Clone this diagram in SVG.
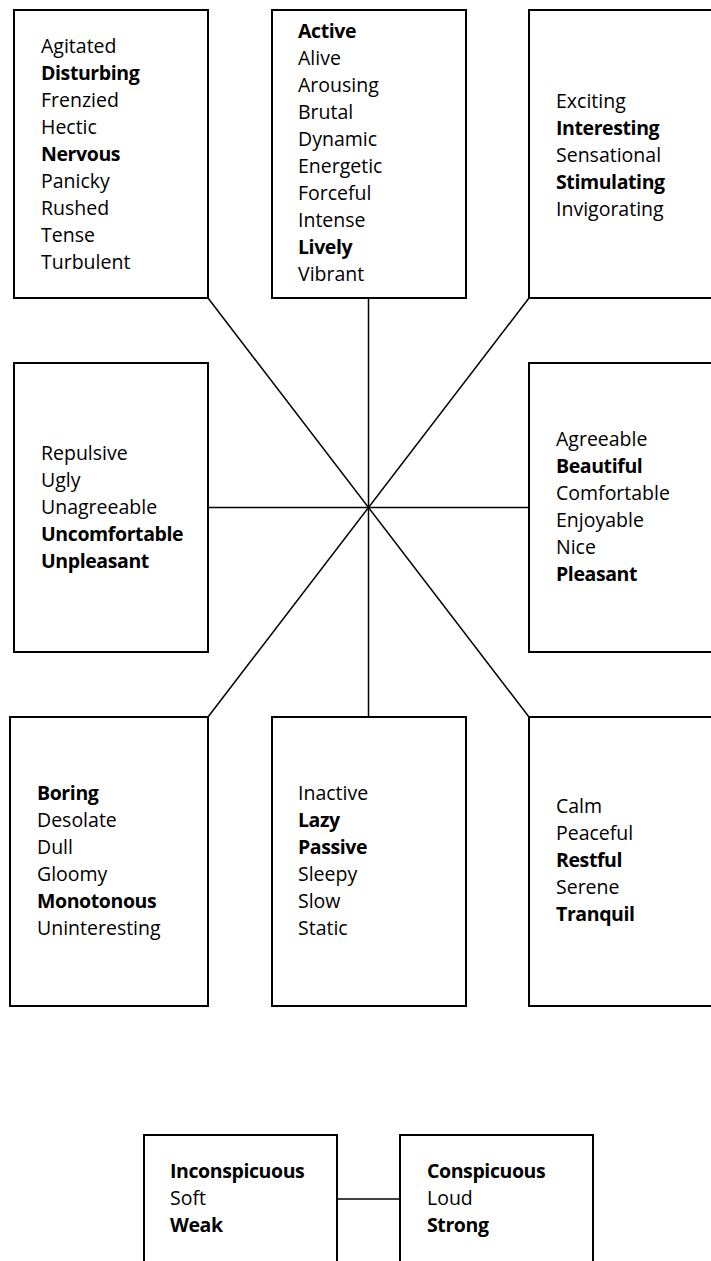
<svg xmlns="http://www.w3.org/2000/svg" width="711" height="1261" viewBox="0 0 711 1261">
<style>
.box{fill:#fff;stroke:#000;stroke-width:2}
.conn line{stroke:#000;stroke-width:1.5}
text{font-family:"Open Sans","Noto Sans","DejaVu Sans",sans-serif;font-size:19.5px;fill:#000}
.b{font-weight:bold;letter-spacing:-0.4px}
</style>
<rect width="711" height="1261" fill="#fff"/>
<g id="connectors" class="conn">
<line x1="208" y1="298" x2="529" y2="717"/>
<line x1="529" y1="298" x2="208" y2="717"/>
<line x1="368.5" y1="298" x2="368.5" y2="717"/>
<line x1="208" y1="507.5" x2="529" y2="507.5"/>
<line x1="337" y1="1199" x2="400" y2="1199"/>
</g>
<g id="box-agitated">
<rect class="box" x="14" y="10" width="194" height="288"/>
<text x="41" y="53">Agitated</text>
<text x="41" y="80" class="b">Disturbing</text>
<text x="41" y="107">Frenzied</text>
<text x="41" y="134">Hectic</text>
<text x="41" y="161" class="b">Nervous</text>
<text x="41" y="188">Panicky</text>
<text x="41" y="215">Rushed</text>
<text x="41" y="242">Tense</text>
<text x="41" y="269">Turbulent</text>
</g>
<g id="box-active">
<rect class="box" x="272" y="10" width="194" height="288"/>
<text x="298" y="38" class="b">Active</text>
<text x="298" y="65">Alive</text>
<text x="298" y="92">Arousing</text>
<text x="298" y="119">Brutal</text>
<text x="298" y="146">Dynamic</text>
<text x="298" y="173">Energetic</text>
<text x="298" y="200">Forceful</text>
<text x="298" y="227">Intense</text>
<text x="298" y="254" class="b">Lively</text>
<text x="298" y="281">Vibrant</text>
</g>
<g id="box-exciting">
<rect class="box" x="529" y="10" width="194" height="288"/>
<text x="556" y="108">Exciting</text>
<text x="556" y="135" class="b">Interesting</text>
<text x="556" y="162">Sensational</text>
<text x="556" y="189" class="b">Stimulating</text>
<text x="556" y="216">Invigorating</text>
</g>
<g id="box-unpleasant">
<rect class="box" x="14" y="363" width="194" height="289"/>
<text x="41" y="460">Repulsive</text>
<text x="41" y="487">Ugly</text>
<text x="41" y="514">Unagreeable</text>
<text x="41" y="541" class="b">Uncomfortable</text>
<text x="41" y="568" class="b">Unpleasant</text>
</g>
<g id="box-pleasant">
<rect class="box" x="529" y="363" width="194" height="289"/>
<text x="556" y="446">Agreeable</text>
<text x="556" y="473" class="b">Beautiful</text>
<text x="556" y="500">Comfortable</text>
<text x="556" y="527">Enjoyable</text>
<text x="556" y="554">Nice</text>
<text x="556" y="581" class="b">Pleasant</text>
</g>
<g id="box-boring">
<rect class="box" x="10" y="717" width="198" height="289"/>
<text x="37" y="800" class="b">Boring</text>
<text x="37" y="827">Desolate</text>
<text x="37" y="854">Dull</text>
<text x="37" y="881">Gloomy</text>
<text x="37" y="908" class="b">Monotonous</text>
<text x="37" y="935">Uninteresting</text>
</g>
<g id="box-inactive">
<rect class="box" x="272" y="717" width="194" height="289"/>
<text x="298" y="800">Inactive</text>
<text x="298" y="827" class="b">Lazy</text>
<text x="298" y="854" class="b">Passive</text>
<text x="298" y="881">Sleepy</text>
<text x="298" y="908">Slow</text>
<text x="298" y="935">Static</text>
</g>
<g id="box-calm">
<rect class="box" x="529" y="717" width="194" height="289"/>
<text x="556" y="813">Calm</text>
<text x="556" y="840">Peaceful</text>
<text x="556" y="867" class="b">Restful</text>
<text x="556" y="894">Serene</text>
<text x="556" y="921" class="b">Tranquil</text>
</g>
<g id="box-inconspicuous">
<rect class="box" x="144" y="1135" width="193" height="140"/>
<text x="170" y="1178" class="b">Inconspicuous</text>
<text x="170" y="1205">Soft</text>
<text x="170" y="1232" class="b">Weak</text>
</g>
<g id="box-conspicuous">
<rect class="box" x="400" y="1135" width="193" height="140"/>
<text x="427" y="1178" class="b">Conspicuous</text>
<text x="427" y="1205">Loud</text>
<text x="427" y="1232" class="b">Strong</text>
</g>
</svg>
